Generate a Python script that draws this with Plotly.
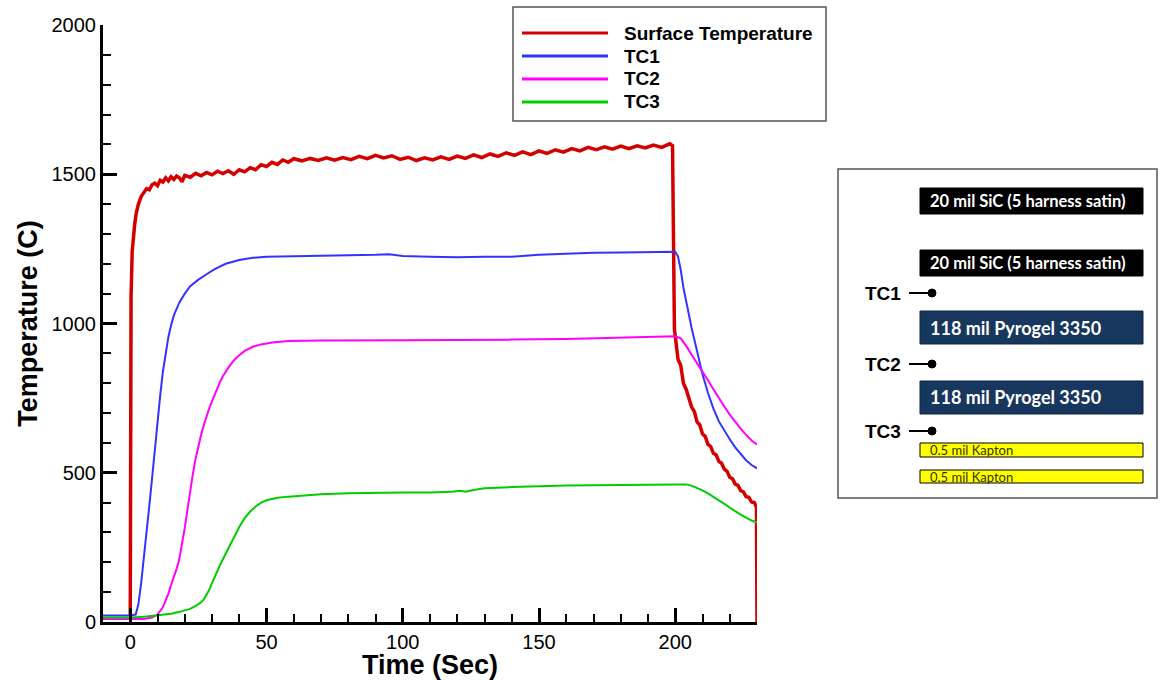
import plotly.graph_objects as go

# ---------------- data ----------------
surf_time = [0, 0, 0.3, 0.7, 1.2, 1.6, 2.2, 3, 4, 5, 6, 7, 8, 9, 10, 11, 12, 13, 14, 15,
             16, 17, 18, 19, 20, 22, 24, 26, 28, 30, 32, 34, 36, 38, 40, 42, 44, 46, 48, 50,
             52, 54, 56, 58, 60, 63, 66, 69, 72, 75, 78, 81, 84, 87, 90, 93, 96, 99, 102, 105,
             108, 111, 114, 117, 120, 123, 126, 129, 132, 135, 138, 141, 144, 147, 150, 153, 156, 159, 162, 165,
             168, 171, 174, 177, 180, 183, 186, 189, 192, 195, 198, 199, 199.3, 199.7, 200.5, 201, 202, 203, 204, 205,
             206, 207, 208, 209, 210, 211, 212, 213, 214, 215, 216, 217, 218, 219, 220, 221, 222, 223, 224, 225,
             226, 227, 228, 229, 229.8, 230]
surf_temp = [20, 780, 1090, 1240, 1300, 1330, 1370, 1400, 1425, 1440, 1452, 1448, 1465, 1470, 1462, 1480, 1474, 1488, 1478, 1492,
             1483, 1494, 1488, 1475, 1496, 1490, 1503, 1495, 1506, 1498, 1510, 1502, 1512, 1500, 1515, 1508, 1522, 1515, 1532, 1526,
             1540, 1533, 1548, 1540, 1552, 1545, 1553, 1546, 1555, 1547, 1556, 1549, 1560, 1552, 1563, 1555, 1562, 1550, 1557, 1546,
             1555, 1548, 1558, 1550, 1561, 1553, 1565, 1556, 1568, 1560, 1572, 1563, 1575, 1566, 1578, 1570, 1582, 1574, 1586, 1578,
             1590, 1582, 1592, 1584, 1594, 1586, 1595, 1588, 1598, 1590, 1602, 1596, 1180, 980, 920, 880, 860, 800, 780, 750,
             720, 705, 670, 660, 630, 622, 595, 588, 565, 560, 538, 532, 512, 505, 485, 480, 462, 458, 440, 436,
             420, 418, 402, 400, 385, 0]

tc1_time = [-10, 0, 2, 3, 4, 5, 6, 7, 8, 9, 10, 11, 12, 13, 14, 15, 16, 18, 20, 22,
            25, 28, 31, 35, 40, 45, 50, 60, 70, 80, 90, 95, 100, 110, 120, 130, 140, 150, 160,
            170, 180, 190, 198, 200, 201, 202, 203, 204, 205, 206, 207, 208, 209, 210, 212, 214, 216, 218, 220,
            222, 224, 226, 228, 230]
tc1_temp = [22, 22, 25, 60, 130, 210, 300, 390, 480, 580, 680, 760, 840, 900, 955, 995, 1027, 1070, 1100, 1125,
            1147, 1165, 1182, 1200, 1213, 1220, 1224, 1225, 1226, 1227, 1230, 1232, 1226, 1224, 1222, 1224, 1224, 1230, 1234,
            1237, 1238, 1239, 1240, 1240, 1225, 1180, 1120, 1070, 1030, 985, 945, 905, 865, 830, 768, 715, 672, 640, 612,
            585, 562, 542, 526, 515]

tc2_time = [-10, 0, 5, 8, 10, 12, 14, 15, 16, 17, 18, 19, 20, 21, 22, 23, 24, 25, 26, 27,
            28, 29, 30, 31, 32, 33, 34, 36, 38, 40, 42, 45, 48, 52, 58, 70, 100, 120, 140, 160,
            180, 198, 200, 202, 204, 206, 208, 210, 212, 214, 216, 218, 220, 222, 224, 226, 228, 230]
tc2_temp = [10, 10, 10, 15, 25, 50, 95, 125, 150, 178, 210, 258, 315, 377, 440, 497, 548, 590, 627, 660,
            690, 716, 740, 763, 785, 805, 823, 852, 876, 894, 908, 922, 930, 936, 941, 943, 944, 944, 946, 948,
            952, 955, 957, 950, 925, 895, 868, 840, 810, 780, 750, 722, 695, 670, 648, 627, 608, 595]

tc3_time = [-10, 0, 5, 10, 15, 18, 22, 24, 26, 27, 28, 29, 30, 31, 32, 33, 34, 35, 36, 37,
            38, 40, 42, 44, 46, 48, 50, 54, 58, 64, 70, 80, 90, 100, 110, 118, 121, 123, 126, 130,
            140, 150, 160, 170, 180, 190, 200, 204, 206, 208, 210, 212, 214, 216, 218, 220, 222, 224, 226, 228,
            230]
tc3_temp = [15, 15, 18, 22, 28, 34, 44, 54, 66, 76, 90, 108, 130, 152, 173, 192, 210, 228, 246, 264,
            282, 318, 348, 370, 387, 400, 408, 416, 420, 425, 428, 431, 433, 434, 434, 436, 440, 436, 442, 448,
            452, 455, 457, 458, 460, 460, 461, 461, 457, 450, 441, 431, 420, 408, 396, 383, 370, 360, 350, 340,
            333]

series_names = ["Surface Temperature", "TC1", "TC2", "TC3"]
series_colors = ["#d40000", "#3333ff", "#ff00ff", "#00cc00"]
series_widths = [3.5, 2, 2, 2]

layer_labels = ["20 mil SiC (5 harness satin)", "20 mil SiC (5 harness satin)",
                "118 mil Pyrogel 3350", "118 mil Pyrogel 3350",
                "0.5 mil Kapton", "0.5 mil Kapton"]
sensor_labels = ["TC1", "TC2", "TC3"]

# ---------------- figure ----------------
W, H = 1160, 680
L, R, T, B = 103, 757, 25, 622          # plot area in pixels


def fx(x):
    return (x - L) / (R - L)


def fy(y):
    return (B - y) / (B - T)


fig = go.Figure()
xs = [surf_time, tc1_time, tc2_time, tc3_time]
ys = [surf_temp, tc1_temp, tc2_temp, tc3_temp]
for name, x, y, c, w in zip(series_names, xs, ys, series_colors, series_widths):
    fig.add_trace(go.Scatter(x=x, y=y, mode="lines", name=name,
                             line=dict(color=c, width=w), showlegend=False))

tick_font = dict(family="Liberation Sans, Arial", size=20, color="black")
title_font = dict(family="Liberation Sans, Arial", size=27, color="black", weight="bold")

fig.update_xaxes(range=[-10, 230], tick0=0, dtick=50, ticks="inside", ticklen=14, tickwidth=3,
                 tickcolor="black",
                 minor=dict(ticks="inside", dtick=10, ticklen=8, tickwidth=1.5, tickcolor="black"),
                 showline=True, linewidth=3, linecolor="black", showgrid=False, zeroline=False,
                 tickfont=tick_font,
                 title=dict(text="Time (Sec)", font=title_font, standoff=9))
fig.update_yaxes(range=[0, 2000], tick0=0, dtick=500, ticks="inside", ticklen=14, tickwidth=3,
                 tickcolor="black",
                 minor=dict(ticks="inside", dtick=100, ticklen=8, tickwidth=1.5, tickcolor="black"),
                 showline=True, linewidth=3, linecolor="black", showgrid=False, zeroline=False,
                 tickfont=tick_font,
                 title=dict(text="Temperature (C)", font=title_font, standoff=7))

shapes = []
annotations = []

# legend box
shapes.append(dict(type="rect", xref="paper", yref="paper", x0=fx(513), x1=fx(826), y0=fy(121), y1=fy(7),
                   line=dict(color="#555555", width=1.5), fillcolor="white"))
legend_rows = [33, 56, 79, 102]
for name, c, yy in zip(series_names, series_colors, legend_rows):
    shapes.append(dict(type="line", xref="paper", yref="paper", x0=fx(522), x1=fx(608), y0=fy(yy), y1=fy(yy),
                       line=dict(color=c, width=3)))
    annotations.append(dict(xref="paper", yref="paper", x=fx(622), y=fy(yy), text=name, showarrow=False,
                            xanchor="left", yanchor="middle",
                            font=dict(family="Liberation Sans, Arial", size=19, color="black", weight="bold")))

# layup diagram
shapes.append(dict(type="rect", xref="paper", yref="paper", x0=fx(838), x1=fx(1157), y0=fy(498), y1=fy(169),
                   line=dict(color="#555555", width=1.5), fillcolor="white"))
layer_rows = [(188, 214), (250, 276), (311, 344), (381, 414), (443, 457), (470, 483)]
layer_fill = ["black", "black", "#17375e", "#17375e", "#ffff00", "#ffff00"]
layer_line = ["black", "black", "#0e2440", "#0e2440", "black", "black"]
layer_text = ["white", "white", "white", "white", "#333300", "#333300"]
layer_size = [16.5, 16.5, 18, 18, 13, 13]
layer_weight = ["bold", "bold", "bold", "bold", "normal", "normal"]
for lab, (y0, y1), fc, lc, tc, sz, wt in zip(layer_labels, layer_rows, layer_fill, layer_line,
                                             layer_text, layer_size, layer_weight):
    shapes.append(dict(type="rect", xref="paper", yref="paper", x0=fx(920), x1=fx(1143), y0=fy(y1), y1=fy(y0),
                       line=dict(color=lc, width=1), fillcolor=fc))
    annotations.append(dict(xref="paper", yref="paper", x=fx(928), y=fy((y0 + y1) / 2), text=lab,
                            showarrow=False, xanchor="left", yanchor="middle",
                            font=dict(family="Lato", size=sz, color=tc, weight=wt)))

sensor_rows = [293, 364, 431]
for lab, yy in zip(sensor_labels, sensor_rows):
    annotations.append(dict(xref="paper", yref="paper", x=fx(903), y=fy(yy), text=lab, showarrow=False,
                            xanchor="right", yanchor="middle",
                            font=dict(family="Liberation Sans, Arial", size=19, color="black", weight="bold")))
    shapes.append(dict(type="line", xref="paper", yref="paper", x0=fx(909), x1=fx(930), y0=fy(yy), y1=fy(yy),
                       line=dict(color="black", width=2)))
    shapes.append(dict(type="circle", xref="paper", yref="paper", x0=fx(928), x1=fx(936),
                       y0=fy(yy + 4), y1=fy(yy - 4), line=dict(color="black", width=1), fillcolor="black"))

fig.update_layout(width=W, height=H, margin=dict(l=L, r=W - R, t=T, b=H - B, autoexpand=False),
                  plot_bgcolor="white", paper_bgcolor="white", shapes=shapes, annotations=annotations,
                  showlegend=False)

fig.write_html("out.html")
